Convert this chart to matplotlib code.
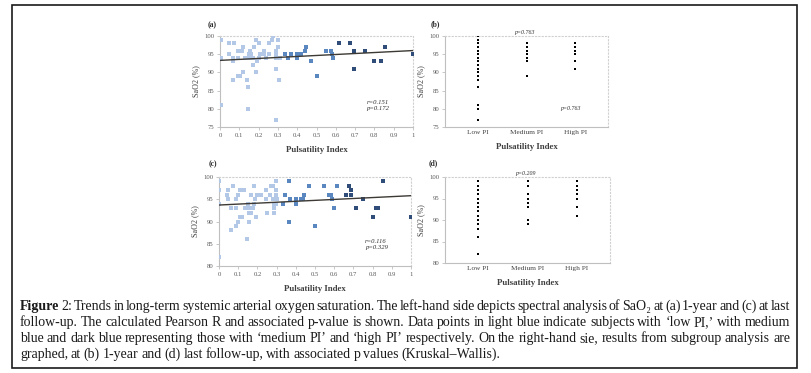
import numpy as np
import matplotlib
matplotlib.use('Agg')
import matplotlib.pyplot as plt
from matplotlib.patches import Rectangle

plt.rcParams['font.family'] = ['Liberation Serif', 'DejaVu Serif']

# ── Data: (a) 1-year, PI vs SaO2 ─────────────────────────────────────────────
a_low_x = [0.005, 0.005, 0.005, 0.048, 0.048, 0.074, 0.066, 0.069, 0.095, 0.095,
           0.103, 0.095, 0.112, 0.117, 0.117, 0.141, 0.147, 0.147, 0.152, 0.155,
           0.152, 0.160, 0.169, 0.176, 0.186, 0.186, 0.193, 0.203, 0.203, 0.207,
           0.228, 0.228, 0.252, 0.255, 0.267, 0.276, 0.290, 0.290, 0.290, 0.290,
           0.302, 0.302, 0.307, 0.290, 0.066, 0.129, 0.172, 0.240, 0.310]
a_low_y = [99, 94, 81, 95, 98, 98, 93, 88, 94, 89,
           89, 96, 96, 97, 90, 88, 86, 80, 95, 96,
           94, 95, 92, 97, 99, 90, 93, 98, 94, 95,
           96, 95, 98, 95, 99, 100, 96, 95, 91, 77,
           99, 97, 88, 94, 94, 94, 94, 94, 94]
a_med_x = [0.336, 0.350, 0.366, 0.400, 0.400, 0.420, 0.438, 0.445, 0.472, 0.502,
           0.547, 0.574, 0.580, 0.586]
a_med_y = [95, 94, 95, 94, 95, 95, 96, 97, 93, 89,
           96, 96, 95, 94]
a_high_x = [0.617, 0.674, 0.693, 0.693, 0.750, 0.800, 0.833, 0.857, 1.000]
a_high_y = [98, 98, 96, 91, 96, 93, 93, 97, 95]
a_trend = [93.3, 96.0]          # fitted line at PI = 0 and PI = 1
a_stats = ['r=0.151', 'p=0.172']

# ── Data: (c) last follow-up ─────────────────────────────────────────────────
c_low_x = [0.000, 0.000, 0.000, 0.000, 0.042, 0.047, 0.047, 0.061, 0.061, 0.073,
           0.087, 0.090, 0.090, 0.099, 0.099, 0.111, 0.111, 0.122, 0.129, 0.134,
           0.139, 0.146, 0.146, 0.151, 0.157, 0.157, 0.163, 0.167, 0.169, 0.176,
           0.183, 0.183, 0.190, 0.195, 0.200, 0.221, 0.247, 0.247, 0.250, 0.264,
           0.273, 0.282, 0.282, 0.285, 0.285, 0.285, 0.296, 0.296, 0.296, 0.299,
           0.304]
c_low_y = [99, 97, 94, 82, 96, 97, 95, 93, 88, 98,
           95, 93, 89, 96, 90, 97, 91, 91, 97, 93,
           93, 93, 86, 94, 92, 90, 93, 96, 92, 93,
           98, 94, 95, 91, 96, 96, 97, 95, 92, 96,
           98, 98, 95, 94, 93, 92, 99, 97, 96, 94,
           95]
c_med_x = [0.334, 0.344, 0.362, 0.362, 0.370, 0.400, 0.400, 0.426, 0.433, 0.440,
           0.443, 0.471, 0.500, 0.546, 0.574, 0.581, 0.586, 0.600, 0.616]
c_med_y = [94, 96, 99, 90, 95, 95, 94, 95, 95, 95,
           96, 98, 89, 98, 96, 96, 95, 93, 98]
c_high_x = [0.664, 0.677, 0.690, 0.690, 0.711, 0.750, 0.803, 0.817, 0.830, 0.856,
            1.000]
c_high_y = [96, 98, 97, 96, 93, 95, 91, 93, 93, 99, 91]
c_trend = [93.7, 95.8]
c_stats = ['r=0.116', 'p=0.329']

# ── Data: (b) and (d) subgroup values ────────────────────────────────────────
groups = ['Low PI', 'Medium PI', 'High PI']
b_low = [100, 99, 98, 97, 96, 95, 94, 93, 92, 91, 90, 89, 88, 86, 81, 80, 77]
b_med = [98, 97, 96, 95, 94, 93, 89]
b_high = [98, 97, 96, 95, 93, 91]
b_pval = 'p=0.763'
d_low = [99, 98, 97, 96, 95, 94, 93, 92, 91, 90, 89, 88, 86, 82]
d_med = [99, 98, 96, 95, 94, 93, 90, 89]
d_high = [99, 98, 97, 96, 95, 93, 91]
d_pval = 'p=0.209'

caption_lines = [
    "Figure 2: Trends in long-term systemic arterial oxygen saturation. The left-hand side depicts "
    "spectral analysis of SaO\u2082 at (a) 1-year and (c) at last",
    "follow-up. The calculated Pearson R and associated p-value is shown. Data points in light blue "
    "indicate subjects with \u2018low PI,\u2019 with medium",
    "blue and dark blue representing those with \u2018medium PI\u2019 and \u2018high PI\u2019 "
    "respectively. On the right-hand sie, results from subgroup analysis are",
    "graphed, at (b) 1-year and (d) last follow-up, with associated p values (Kruskal\u2013Wallis).",
]

# ── Styling ──────────────────────────────────────────────────────────────────
LIGHT = '#b3c8e6'
MED = '#5a87c0'
DARK = '#2f4d78'
TICK = '#595959'
W, H = 811, 373

fig = plt.figure(figsize=(W / 100, H / 100), dpi=100)
fig.patch.set_facecolor('white')


def px_axes(x0, y0, x1, y1):
    return fig.add_axes([x0 / W, 1 - y1 / H, (x1 - x0) / W, (y1 - y0) / H])


def style(ax):
    for s in ('left', 'bottom'):
        ax.spines[s].set_color('#bfbfbf')
        ax.spines[s].set_linewidth(0.8)
    for s in ('top', 'right'):
        ax.spines[s].set_color('#d0d0d0')
        ax.spines[s].set_linestyle((0, (1, 2)))
        ax.spines[s].set_linewidth(0.8)
    ax.tick_params(length=2, width=0.6, color='#bfbfbf', labelsize=4.8,
                   labelcolor=TICK, pad=2)
    ax.set_ylabel('SaO2 (%)', fontsize=5.8, color='#404040', labelpad=3)
    ax.set_xlabel('Pulsatility Index', fontsize=6.3, fontweight='bold',
                  color='#404040', labelpad=6)


def scatter_panel(ax, lx, ly, mx, my, hx, hy, trend, stats, ylo):
    ax.scatter(lx, ly, marker='s', s=5, color=LIGHT, lw=0, zorder=3)
    ax.scatter(mx, my, marker='s', s=5, color=MED, lw=0, zorder=3)
    ax.scatter(hx, hy, marker='s', s=5, color=DARK, lw=0, zorder=3)
    ax.plot([0, 1], trend, color='#3d3a35', lw=1.0, zorder=4)
    ax.set_xlim(0, 1)
    ax.set_ylim(ylo, 100)
    ax.set_xticks(np.arange(0, 1.01, 0.1))
    ax.set_xticklabels(['0', '0.1', '0.2', '0.3', '0.4', '0.5', '0.6', '0.7',
                        '0.8', '0.9', '1'])
    ax.set_yticks(np.arange(ylo, 100.1, 5))
    ax.text(0.76, 0.30, stats[0] + '\n' + stats[1], transform=ax.transAxes,
            fontsize=4.8, style='italic', color='#303030', va='top',
            linespacing=1.3)
    style(ax)


def strip_panel(ax, vals, pval, ylo, pxy):
    for i, v in enumerate(vals):
        ax.scatter([i] * len(v), v, marker='s', s=4.6, color='black', lw=0,
                   zorder=3)
    ax.set_xlim(-0.67, 2.67)
    ax.set_ylim(ylo, 100)
    ax.set_xticks(range(3))
    ax.set_xticklabels(groups, fontsize=5.2)
    ax.set_yticks(np.arange(ylo, 100.1, 5))
    for (x, y) in pxy:
        ax.text(x, y, pval, fontsize=4.2, style='italic', color='#303030',
                ha='center', va='bottom')
    style(ax)
    ax.tick_params(axis='x', length=0, labelsize=5.2, labelcolor='#404040')


ax_a = px_axes(220, 36, 413, 127)
scatter_panel(ax_a, a_low_x, a_low_y, a_med_x, a_med_y, a_high_x, a_high_y,
              a_trend, a_stats, 75)
ax_c = px_axes(219, 177, 411, 266)
scatter_panel(ax_c, c_low_x, c_low_y, c_med_x, c_med_y, c_high_x, c_high_y,
              c_trend, c_stats, 80)
ax_b = px_axes(445, 36, 608, 127)
strip_panel(ax_b, [b_low, b_med, b_high], b_pval, 75, [(0.97, 100.3), (1.9, 79.4)])
ax_d = px_axes(445, 177, 610, 263)
strip_panel(ax_d, [d_low, d_med, d_high], d_pval, 80, [(0.97, 100.3)])

for lab, (x, y) in zip(['(a)', '(b)', '(c)', '(d)'],
                       [(212, 25), (435, 24), (213, 164), (433, 163)]):
    fig.text(x / W, 1 - y / H, lab, fontsize=5.5, fontweight='bold',
             ha='center', va='center', color='#303030')

# ── Frame ────────────────────────────────────────────────────────────────────
fig.patches.append(Rectangle((12 / W, 1 - 368 / H), 785 / W, 363 / H,
                             transform=fig.transFigure, fill=False,
                             edgecolor='#1a1a1a', lw=1.2))

# ── Caption, justified ───────────────────────────────────────────────────────
renderer = fig.canvas.get_renderer()
left, right = 20, 790
baselines = [310, 326, 342, 358]
for li, (line, yb) in enumerate(zip(caption_lines, baselines)):
    words = line.split(' ')
    texts = []
    for wi, w in enumerate(words):
        bold = (li == 0 and wi == 0)
        t = fig.text(0, 1 - yb / H, w, fontsize=10, va='baseline',
                     fontweight='bold' if bold else 'normal', color='#1a1a1a')
        texts.append(t)
    widths = [t.get_window_extent(renderer).width for t in texts]
    if li < len(caption_lines) - 1:
        gap = (right - left - sum(widths)) / (len(words) - 1)
    else:
        gap = 2.8
    x = left
    for t, w in zip(texts, widths):
        t.set_x(x / W)
        x += w + gap

fig.savefig('out.png', dpi=100)
